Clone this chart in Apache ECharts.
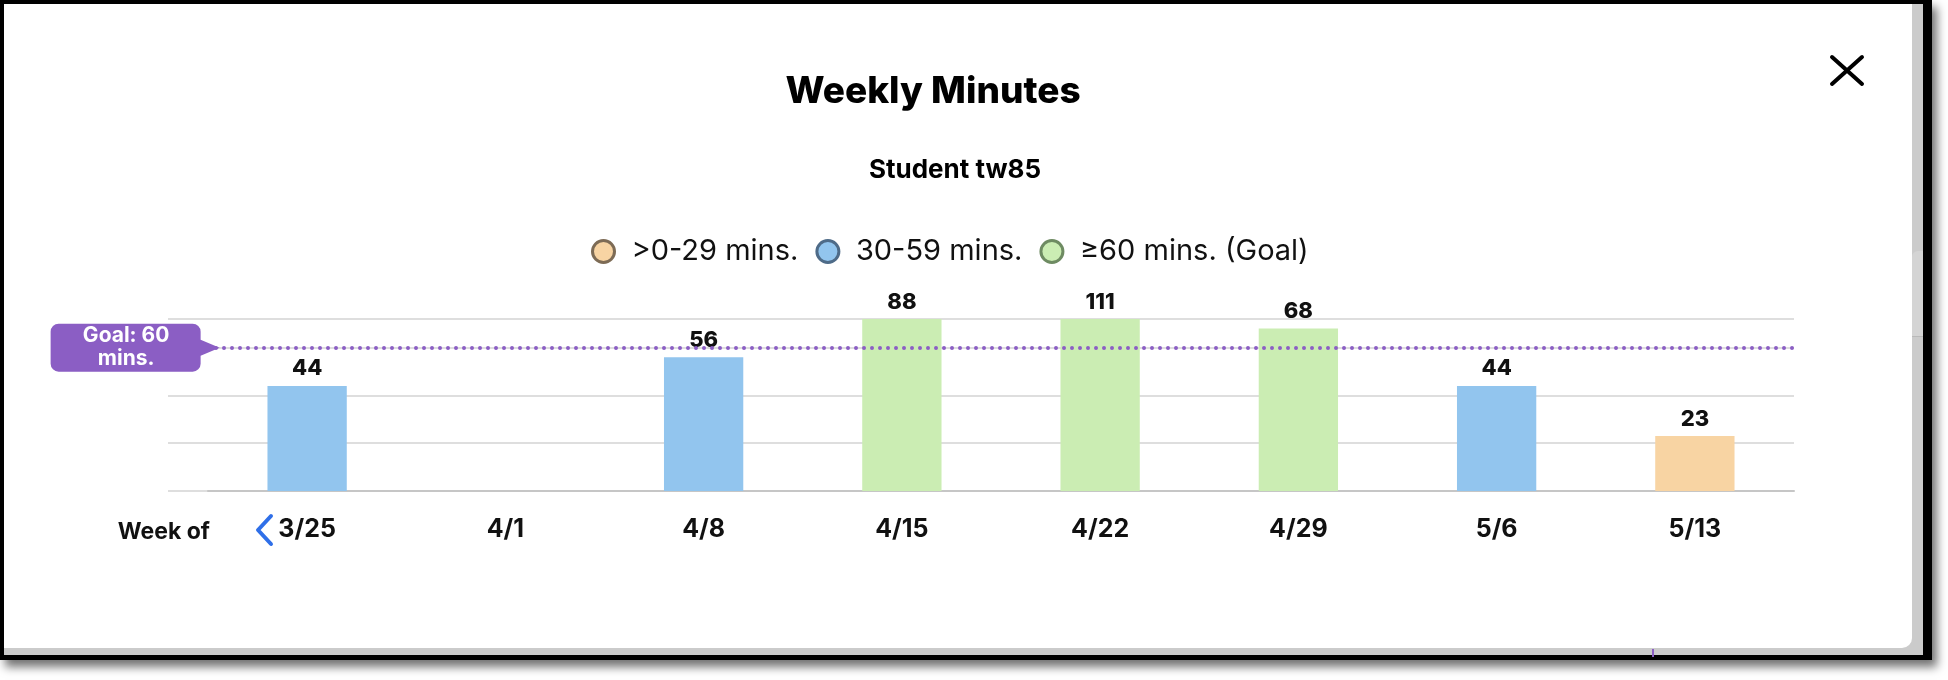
<!DOCTYPE html>
<html>
<head>
<meta charset="utf-8">
<title>Weekly Minutes</title>
<script src="https://cdn.jsdelivr.net/npm/echarts@6/dist/echarts.min.js"></script>
<style>
  html, body { margin: 0; padding: 0; background: #fff; overflow: hidden; }
  /* screenshot frame around the modal */
  .frame { position: absolute; left: 0; top: 0; width: 1932px; height: 660px; background: #000;
           box-shadow: 5px 7px 9px rgba(0, 0, 0, 0.55); }
  .gutter { position: absolute; left: 4px; top: 4px; width: 1919px; height: 651px; background: #cbcbcb; }
  .thumb { position: absolute; left: 1912px; top: 251px; width: 11px; height: 85px; background: #d4d4d4;
           border-top-left-radius: 6px; border-bottom: 1px solid #b9b9b9; }
  .modal { position: absolute; left: 4px; top: 4px; width: 1908px; height: 644px; background: #fff;
           border-bottom-right-radius: 10px; }
  .tick { position: absolute; left: 1652px; top: 649px; width: 2px; height: 8px; background: #8b5ec4; }
  #main { position: absolute; left: 0; top: 0; width: 1948px; height: 680px; }
</style>
</head>
<body>
<div class="frame"><div class="gutter"></div><div class="thumb"></div><div class="modal"></div><div class="tick"></div></div>
<div id="main"></div>
<script>
// 数据
const weeks = ['3/25', '4/1', '4/8', '4/15', '4/22', '4/29', '5/6', '5/13'];
const minutes = [44, 0, 56, 88, 111, 68, 44, 23];
const bandNames = ['>0-29 mins.', '30-59 mins.', '≥60 mins. (Goal)'];
const bandLow = [1, 30, 60];
const bandHigh = [29, 59, Infinity];
const bandColors = ['#f8d4a3', '#92c5ee', '#cbedb3'];
const bandBorders = ['#7d6b55', '#4e6b88', '#6e8b62'];
const goalMinutes = 60;
const yMax = 72;
const yStep = 20;

const font = 'Inter, Lato, sans-serif';
const myChart = echarts.init(document.getElementById('main'));

// 每个区间一个系列，按分钟数分组
const barSeries = bandNames.map((name, i) => ({
  name: name,
  type: 'bar',
  stack: 'week',
  barWidth: '40%',
  data: minutes.map(v => (v >= bandLow[i] && v <= bandHigh[i]) ? v : '-'),
  itemStyle: { color: bandColors[i] },
  label: {
    show: true,
    position: 'top',
    distance: 6,
    color: '#111',
    fontFamily: font,
    fontSize: 22,
    fontWeight: 800
  }
}));

// goal line + badge
barSeries[0].markLine = {
  silent: true,
  symbol: 'none',
  label: { show: false },
  lineStyle: { color: '#8b5ec4', width: 4, type: [0, 8], cap: 'round' },
  data: [{ yAxis: goalMinutes }]
};
barSeries[0].markPoint = {
  silent: true,
  data: [{
    coord: [0, goalMinutes],
    symbol: 'path://M8,0 H142 A8,8 0 0 1 150,8 V16 L169,24 L150,32 V40 A8,8 0 0 1 142,48 H8 A8,8 0 0 1 0,40 V8 A8,8 0 0 1 8,0 Z',
    symbolSize: [169, 48],
    symbolOffset: [-172, 0],
    itemStyle: { color: '#8b5ec4' },
    label: {
      show: true,
      position: 'inside',
      offset: [-9, 0],
      formatter: 'Goal: ' + goalMinutes + '\nmins.',
      color: '#fff',
      fontFamily: font,
      fontSize: 21,
      fontWeight: 'bold',
      lineHeight: 23
    }
  }]
};

const gridLine = { show: true, lineStyle: { color: '#dedede', width: 2 } };

const option = {
  animation: false,
  legend: {
    left: 586,
    top: 232,
    icon: 'circle',
    itemWidth: 22,
    itemHeight: 22,
    itemGap: 17,
    selectedMode: false,
    textStyle: { fontFamily: font, fontSize: 29, color: '#111', padding: [0, 0, 0, 12] },
    data: bandNames.map((n, i) => ({
      name: n,
      itemStyle: { color: bandColors[i], borderColor: bandBorders[i], borderWidth: 3 }
    }))
  },
  grid: [
    { left: 208, right: 154, top: 319, bottom: 189 },
    { left: 168, width: 40, top: 319, bottom: 189 }
  ],
  xAxis: [
    {
      type: 'category',
      data: weeks,
      axisLine: { lineStyle: { color: '#c6c6c6', width: 2 } },
      axisTick: { show: false },
      axisLabel: { fontFamily: font, fontSize: 25, fontWeight: 'bold', color: '#111', margin: 26 }
    },
    { type: 'value', gridIndex: 1, show: false, min: 0, max: 1 }
  ],
  yAxis: [
    {
      type: 'value', min: 0, max: yMax, interval: yStep,
      axisLine: { show: false }, axisTick: { show: false }, axisLabel: { show: false },
      splitLine: gridLine
    },
    {
      type: 'value', gridIndex: 1, min: 0, max: yMax, interval: yStep,
      axisLine: { show: false }, axisTick: { show: false }, axisLabel: { show: false },
      splitLine: gridLine
    }
  ],
  graphic: [
    // 标题
    { type: 'text', x: 933, y: 92, style: { text: 'Weekly Minutes', textAlign: 'center', textVerticalAlign: 'middle',
      font: '800 37px ' + font, fill: '#000' } },
    { type: 'text', x: 955, y: 170, style: { text: 'Student tw85', textAlign: 'center', textVerticalAlign: 'middle',
      font: 'bold 26px ' + font, fill: '#000' } },
    { type: 'text', x: 210, y: 532, style: { text: 'Week of', textAlign: 'right', textVerticalAlign: 'middle',
      font: 'bold 23px ' + font, fill: '#111' } },
    // close button
    { type: 'line', shape: { x1: 1832, y1: 57, x2: 1862, y2: 84 }, style: { stroke: '#000', lineWidth: 4, lineCap: 'round' } },
    { type: 'line', shape: { x1: 1862, y1: 57, x2: 1832, y2: 84 }, style: { stroke: '#000', lineWidth: 4, lineCap: 'round' } },
    // previous-week chevron
    { type: 'polyline', shape: { points: [[271, 516], [258, 530], [271, 544]] },
      style: { stroke: '#2f6fe8', lineWidth: 4, lineCap: 'round', lineJoin: 'round', fill: null } }
  ],
  series: barSeries
};

myChart.setOption(option);
window.onresize = function () {
  myChart.resize();
};
</script>
</body>
</html>
